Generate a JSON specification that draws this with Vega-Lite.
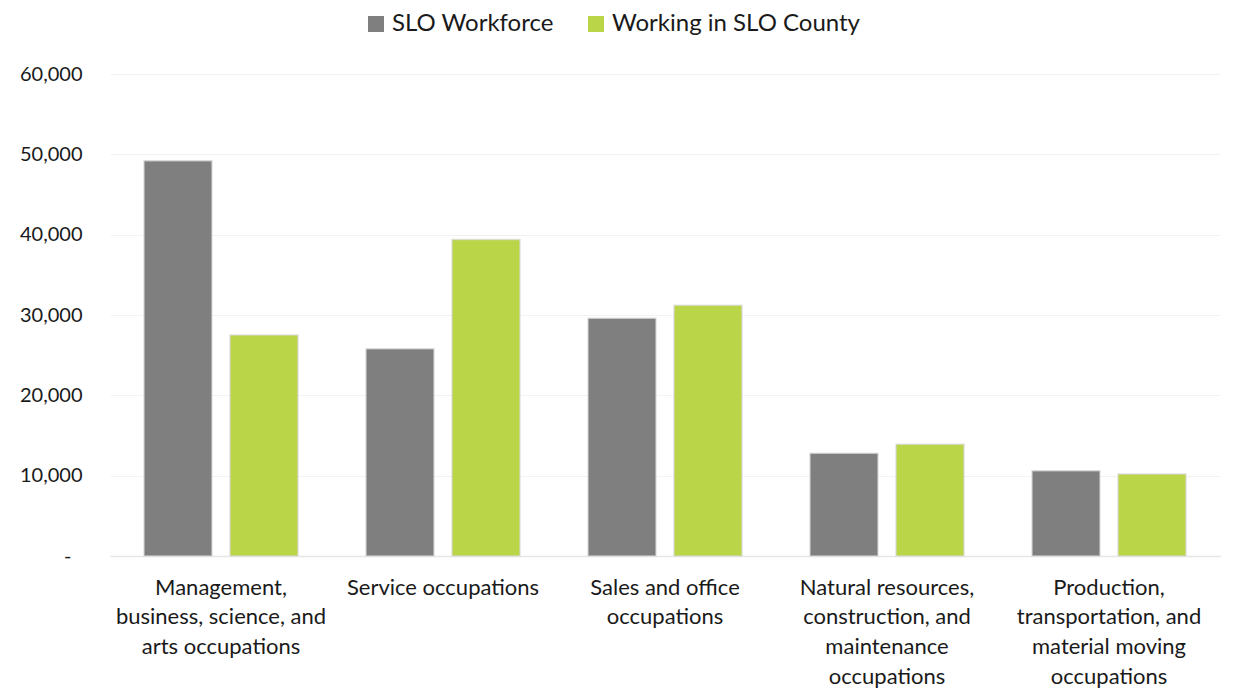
{
  "$schema": "https://vega.github.io/schema/vega-lite/v6.json",
  "autosize": {"type": "none"},
  "width": 1110,
  "height": 482,
  "padding": {"left": 110, "top": 74, "right": 23, "bottom": 134},
  "background": "white",
  "config": {
    "view": {"stroke": null},
    "font": "Lato",
    "axis": {"labelFont": "Lato", "labelColor": "#1a1a1a"},
    "legend": {"labelFont": "Lato"}
  },
  "data": {
    "values": [
      {"occupation": "Management,|business, science, and|arts occupations", "series": "SLO Workforce", "value": 49200},
      {"occupation": "Management,|business, science, and|arts occupations", "series": "Working in SLO County", "value": 27500},
      {"occupation": "Service occupations", "series": "SLO Workforce", "value": 25800},
      {"occupation": "Service occupations", "series": "Working in SLO County", "value": 39400},
      {"occupation": "Sales and office|occupations", "series": "SLO Workforce", "value": 29600},
      {"occupation": "Sales and office|occupations", "series": "Working in SLO County", "value": 31200},
      {"occupation": "Natural resources,|construction, and|maintenance|occupations", "series": "SLO Workforce", "value": 12800},
      {"occupation": "Natural resources,|construction, and|maintenance|occupations", "series": "Working in SLO County", "value": 13900},
      {"occupation": "Production,|transportation, and|material moving|occupations", "series": "SLO Workforce", "value": 10600},
      {"occupation": "Production,|transportation, and|material moving|occupations", "series": "Working in SLO County", "value": 10200}
    ]
  },
  "mark": {"type": "bar", "stroke": "#d9d9d9", "strokeWidth": 1.5, "strokeOpacity": 0.7},
  "encoding": {
    "x": {
      "field": "occupation",
      "type": "nominal",
      "sort": null,
      "scale": {"paddingInner": 0, "paddingOuter": 0},
      "axis": {
        "title": null,
        "labelAngle": 0,
        "labelExpr": "split(datum.label, '|')",
        "labelFontSize": 22,
        "labelLineHeight": 29.7,
        "labelPadding": 21,
        "labelBaseline": "top",
        "labelLimit": 400,
        "ticks": false,
        "domain": true,
        "domainColor": "#e6e6e6",
        "domainWidth": 1.5
      }
    },
    "xOffset": {
      "field": "series",
      "type": "nominal",
      "scale": {"paddingInner": 0.209, "paddingOuter": 0.395}
    },
    "y": {
      "field": "value",
      "type": "quantitative",
      "scale": {"domain": [0, 60000], "nice": false},
      "axis": {
        "title": null,
        "values": [0, 10000, 20000, 30000, 40000, 50000, 60000],
        "labelExpr": "datum.value == 0 ? '-' : format(datum.value, ',')",
        "labelFontSize": 20,
        "labelPadding": {"condition": {"test": "datum.value == 0", "value": 39}, "value": 28},
        "ticks": false,
        "domain": false,
        "grid": true,
        "gridColor": "#f2f2f2",
        "gridWidth": 1
      }
    },
    "color": {
      "field": "series",
      "type": "nominal",
      "scale": {"domain": ["SLO Workforce", "Working in SLO County"], "range": ["#7f7f7f", "#bad548"]},
      "legend": {
        "title": null,
        "orient": "none",
        "direction": "horizontal",
        "legendX": 254,
        "legendY": -62,
        "symbolType": "square",
        "symbolSize": 256,
        "symbolStrokeWidth": 0,
        "labelFontSize": 24,
        "labelColor": "#1a1a1a",
        "labelOffset": 4,
        "columnPadding": 30,
        "labelLimit": 400
      }
    }
  }
}
